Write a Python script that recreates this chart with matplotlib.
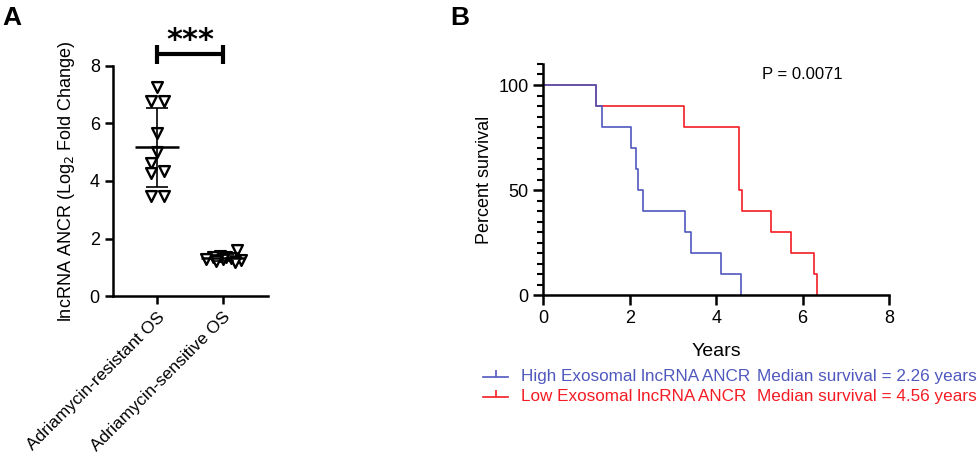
import numpy as np
import matplotlib
matplotlib.use("Agg")
from matplotlib import pyplot as plt
from matplotlib.lines import Line2D
from matplotlib.ticker import MultipleLocator

plt.rcParams['font.family'] = ['Liberation Sans', 'DejaVu Sans']

# ---- panel A data (log2 fold change) ----
groups = ["Adriamycin-resistant OS", "Adriamycin-sensitive OS"]
resistant = [7.25, 6.77, 6.77, 5.67, 5.01, 4.63, 4.34, 4.26, 3.48, 3.48]
resistant_dx = [0.0, -0.1, 0.1, 0.0, 0.0, -0.1, 0.1, -0.1, -0.1, 0.1]
sensitive = [1.60, 1.38, 1.36, 1.35, 1.33, 1.30, 1.28, 1.25, 1.22, 1.20]
sensitive_dx = [0.22, -0.05, 0.05, -0.15, 0.12, -0.25, 0.0, 0.28, -0.1, 0.18]

# ---- panel B data (Kaplan-Meier steps) ----
high_times = [0, 1.22, 1.36, 2.03, 2.14, 2.20, 2.31, 3.27, 3.41, 4.11, 4.58]
high_surv = [100, 90, 80, 70, 60, 50, 40, 30, 20, 10, 0]
low_times = [0, 1.23, 3.25, 4.52, 4.53, 4.54, 4.60, 5.26, 5.72, 6.26, 6.33]
low_surv = [100, 90, 80, 70, 60, 50, 40, 30, 20, 10, 0]

blue = '#4f58bd'
red = '#f41c24'

fig = plt.figure(figsize=(9.77, 4.57), dpi=100)

# ---------------- panel A ----------------
ax = fig.add_axes([0.1157, 0.352, 0.1583, 0.504])
for i, (vals, dx) in enumerate([(resistant, resistant_dx), (sensitive, sensitive_dx)]):
    vals = np.array(vals)
    ax.scatter(i + np.array(dx), vals, marker='v', s=60, facecolor='white',
               edgecolor='black', linewidth=1.7, zorder=3)
    m, sd = vals.mean(), vals.std(ddof=1)
    ax.hlines(m, i - 0.33, i + 0.33, color='black', lw=1.8, zorder=4)
    ax.vlines(i, m - sd, m + sd, color='black', lw=1.2, zorder=4)
    ax.hlines([m - sd, m + sd], i - 0.165, i + 0.165, color='black', lw=1.2, zorder=4)

# significance bracket
ax.plot([0, 1], [8.4, 8.4], color='black', lw=3, clip_on=False, solid_capstyle='butt')
ax.plot([0, 0], [8.08, 8.72], color='black', lw=3, clip_on=False, solid_capstyle='butt')
ax.plot([1, 1], [8.08, 8.72], color='black', lw=3, clip_on=False, solid_capstyle='butt')
ax.text(0.5, 8.88, '***', ha='center', va='center', fontsize=22, fontweight='bold',
        family='DejaVu Sans')

ax.set_xlim(-0.67, 1.68)
ax.set_ylim(0, 8)
ax.set_yticks([0, 2, 4, 6, 8])
ax.set_xticks([0, 1])
ax.set_xticklabels(groups, rotation=45, ha='right', rotation_mode='anchor', fontsize=12.5)
ax.set_ylabel('lncRNA ANCR (Log$_2$ Fold Change)', fontsize=13, labelpad=9)
for s in ['top', 'right']:
    ax.spines[s].set_visible(False)
for s in ['left', 'bottom']:
    ax.spines[s].set_linewidth(1.8)
ax.tick_params(width=1.8, length=6)
ax.tick_params(axis='y', labelsize=13)
fig.text(0.002, 0.945, 'A', fontsize=19, fontweight='bold')

# ---------------- panel B ----------------
bx = fig.add_axes([0.556, 0.354, 0.354, 0.506])
bx.step(low_times, low_surv, where='post', color=red, lw=1.2)
bx.step(high_times, high_surv, where='post', color=blue, lw=1.2)
bx.set_xlim(0, 8)
bx.set_ylim(0, 110)
bx.set_xticks([0, 2, 4, 6, 8])
bx.set_yticks([0, 50, 100])
bx.yaxis.set_minor_locator(MultipleLocator(5))
bx.set_xlabel('Years', fontsize=14, labelpad=12)
bx.set_ylabel('Percent survival', fontsize=13)
for s in ['top', 'right']:
    bx.spines[s].set_visible(False)
for s in ['left', 'bottom']:
    bx.spines[s].set_linewidth(1.8)
bx.tick_params(width=1.8, length=7, labelsize=13)
bx.tick_params(axis='y', which='minor', width=1.5, length=4)
bx.text(5.05, 105, 'P = 0.0071', fontsize=12, va='center', ha='left')
fig.text(0.461, 0.945, 'B', fontsize=19, fontweight='bold')

# legend rows
rows = [(blue, 'High Exosomal lncRNA ANCR', 'Median survival = 2.26 years'),
        (red, 'Low Exosomal lncRNA ANCR', 'Median survival = 4.56 years')]
for k, (c, lab, med) in enumerate(rows):
    yy = 1 - (376.5 + 20 * k) / 457
    fig.add_artist(Line2D([483 / 977, 508 / 977], [yy, yy], color=c, lw=1.2))
    fig.add_artist(Line2D([495.5 / 977], [yy], color=c, marker=2, markersize=5, mew=1.2))
    fig.text(521 / 977, yy, lab, color=c, fontsize=12.3, va='center')
    fig.text(757 / 977, yy, med, color=c, fontsize=12.3, va='center')

fig.savefig('out.png', dpi=100)
